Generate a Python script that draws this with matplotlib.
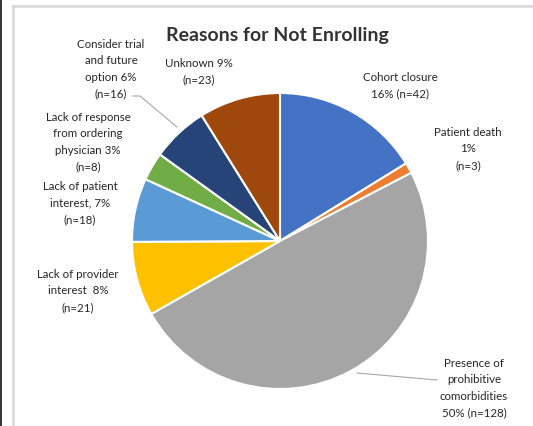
import matplotlib.pyplot as plt
from matplotlib.lines import Line2D
from matplotlib.patches import Rectangle

# %% Data

reasons = [
    "Cohort closure",
    "Patient death",
    "Presence of prohibitive comorbidities",
    "Lack of provider interest",
    "Lack of patient interest",
    "Lack of response from ordering physician",
    "Consider trial and future option",
    "Unknown",
]
counts = [42, 3, 128, 21, 18, 8, 16, 23]
colors = ["#4472C4", "#ED7D31", "#A5A5A5", "#FFC000", "#5B9BD5", "#70AD47", "#264478", "#9E480E"]
label_texts = [
    "Cohort closure\n16% (n=42)",
    "Patient death\n1%\n(n=3)",
    "Presence of\nprohibitive\ncomorbidities\n50% (n=128)",
    "Lack of provider\ninterest  8%\n(n=21)",
    "Lack of patient\ninterest, 7%\n(n=18)",
    "Lack of response\nfrom ordering\nphysician 3%\n(n=8)",
    "Consider trial\nand future\noption 6%\n(n=16)",
    "Unknown 9%\n(n=23)",
]
# label centres in pixels (x, y from top)
label_pos = [(400, 86), (468, 149), (474, 388), (78, 291), (80, 203), (88, 142), (111, 69), (199, 72)]

# %% Figure

W, H = 533, 427
fig = plt.figure(figsize=(W / 100, H / 100), dpi=100)
plt.rcParams["font.family"] = ["Lato", "DejaVu Sans"]


def fx(px):
    return px / W


def fy(py):
    return 1 - py / H


# screenshot frame
fig.add_artist(Rectangle((0, 0), fx(2), 1, transform=fig.transFigure, color="#3a3a3a", lw=0))
fig.add_artist(Line2D([fx(13), fx(13)], [0, fy(7)], transform=fig.transFigure, color="#d6d6d6", lw=1.8))
fig.add_artist(Line2D([fx(13), 1], [fy(7), fy(7)], transform=fig.transFigure, color="#d6d6d6", lw=1.8))

cx, cy, r = 280, 242, 148
ax = fig.add_axes([fx(cx - r), fy(cy + r), 2 * r / W, 2 * r / H])
ax.pie(
    counts,
    colors=colors,
    startangle=90,
    counterclock=False,
    radius=1,
    wedgeprops={"edgecolor": "white", "linewidth": 1.5},
)
ax.set_xlim(-1, 1)
ax.set_ylim(-1, 1)
ax.set_aspect("equal")
ax.axis("off")

fig.text(fx(277), fy(35), "Reasons for Not Enrolling", ha="center", va="center",
         fontsize=14, fontweight="bold", color="#333333")

for txt, (px, py) in zip(label_texts, label_pos):
    fig.text(fx(px), fy(py), txt, ha="center", va="center", fontsize=8.3,
             color="#262626", linespacing=1.62)

# leader lines
fig.add_artist(Line2D([fx(133), fx(140), fx(177)], [fy(97), fy(97), fy(128)],
                      transform=fig.transFigure, color="#a6a6a6", lw=0.8))
fig.add_artist(Line2D([fx(357), fx(437)], [fy(374), fy(381)],
                      transform=fig.transFigure, color="#a6a6a6", lw=0.8))

fig.savefig("out.png", dpi=100)
